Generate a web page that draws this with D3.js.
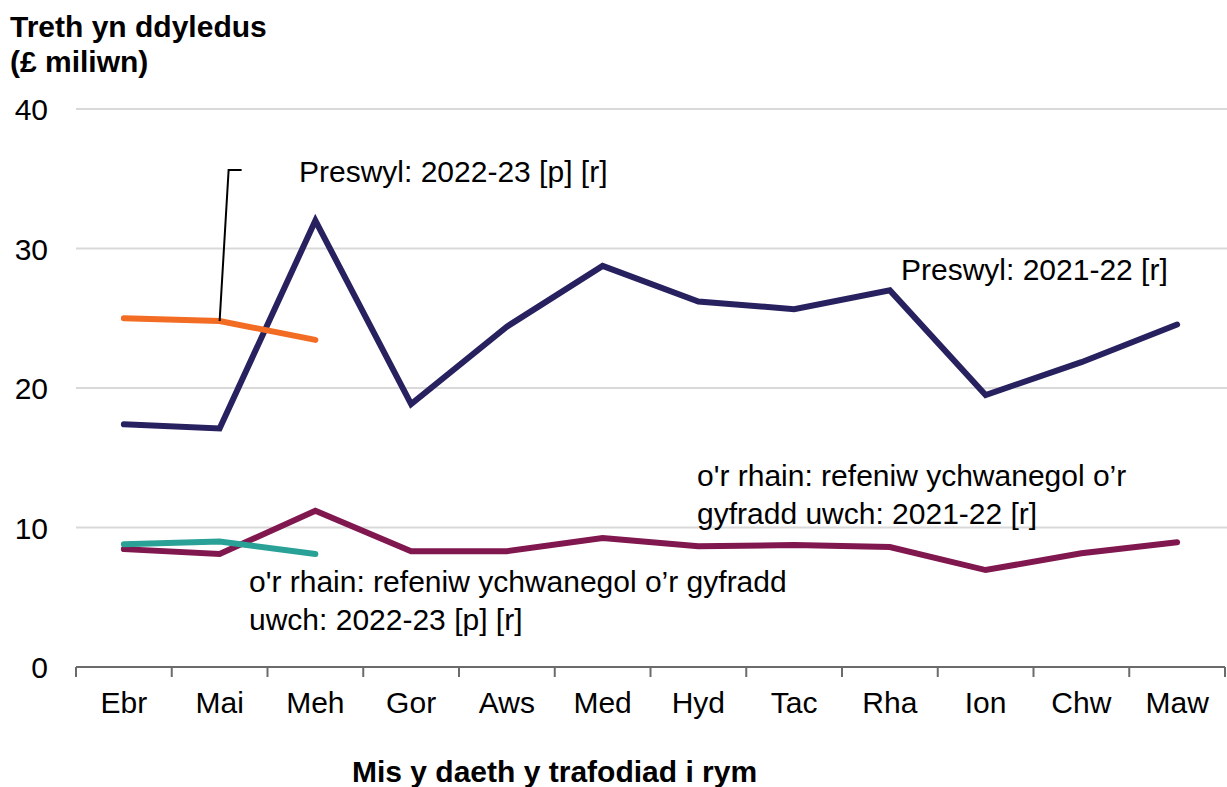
<!DOCTYPE html>
<html><head><meta charset="utf-8">
<script src="https://cdn.jsdelivr.net/npm/d3@7"></script>
<style>body{margin:0;background:#fff}svg{display:block;font-family:"Liberation Sans",Arial,sans-serif}</style>
</head><body><svg id="c" width="1227" height="787"></svg>
<script>
const months = ["Ebr","Mai","Meh","Gor","Aws","Med","Hyd","Tac","Rha","Ion","Chw","Maw"];
const yTicks = [0,10,20,30,40];
const preswyl2122 = [17.4,17.1,32.0,18.85,24.4,28.75,26.2,25.65,27.0,19.5,21.85,24.55];
const preswyl2223 = [25.0,24.8,23.45];
const uwch2122 = [8.45,8.1,11.2,8.3,8.3,9.25,8.65,8.75,8.6,6.95,8.15,8.95];
const uwch2223 = [8.8,9.0,8.1];

const FS = 30;
const svg = d3.select("#c");
const L=76, R=1225, T=109, B=667;
const x = d3.scaleBand().domain(months).range([L,R]);
const y = d3.scaleLinear().domain([0,40]).range([B,T]);

// gridlines
svg.append("g").selectAll("line").data(yTicks.filter(d=>d>0)).join("line")
  .attr("x1",L).attr("x2",1227).attr("y1",d=>y(d)).attr("y2",d=>y(d))
  .attr("stroke","#d9d9d9").attr("stroke-width",2);

// y labels
svg.append("g").selectAll("text").data(yTicks).join("text")
  .attr("x",48).attr("y",d=>y(d)+11).attr("text-anchor","end")
  .attr("font-size",FS).attr("fill","#000").text(d=>d);

// x axis
svg.append("line").attr("x1",L).attr("x2",R).attr("y1",B).attr("y2",B)
  .attr("stroke","#6b6b6b").attr("stroke-width",2);
svg.append("g").selectAll("line").data(d3.range(months.length+1)).join("line")
  .attr("x1",i=>L+i*x.step()).attr("x2",i=>L+i*x.step())
  .attr("y1",B).attr("y2",B+10).attr("stroke","#6b6b6b").attr("stroke-width",2);
svg.append("g").selectAll("text").data(months).join("text")
  .attr("x",d=>x(d)+x.bandwidth()/2).attr("y",713).attr("text-anchor","middle")
  .attr("font-size",FS).attr("fill","#000").text(d=>d);

// titles
svg.append("text").attr("x",10).attr("y",37).attr("font-size",FS).attr("font-weight","bold").text("Treth yn ddyledus");
svg.append("text").attr("x",10).attr("y",72).attr("font-size",FS).attr("font-weight","bold").text("(£ miliwn)");
svg.append("text").attr("x",352).attr("y",782).attr("font-size",FS).attr("font-weight","bold").text("Mis y daeth y trafodiad i rym");

// lines
const line = d3.line().x((d,i)=>x(months[i])+x.bandwidth()/2).y(d=>y(d));
const series = [
  {v:preswyl2122,c:"#28215f"},
  {v:uwch2122,c:"#80174f"},
  {v:uwch2223,c:"#2aa197"},
  {v:preswyl2223,c:"#f26c23"}
];
svg.append("g").selectAll("path").data(series).join("path")
  .attr("d",d=>line(d.v)).attr("fill","none").attr("stroke",d=>d.c)
  .attr("stroke-width",6).attr("stroke-linejoin","miter").attr("stroke-linecap","round");

// leader line
const mx = x("Mai")+x.bandwidth()/2;
svg.append("path").attr("d",`M${mx},${y(preswyl2223[1])} L${mx+9},170 L${mx+22},170`)
  .attr("fill","none").attr("stroke","#000").attr("stroke-width",2);

// annotations
function ann(xp, yp, lines){
  const t = svg.append("text").attr("font-size",FS).attr("fill","#000");
  lines.forEach((s,i)=>t.append("tspan").attr("x",xp).attr("y",yp+i*38).text(s));
}
ann(299,182,["Preswyl: 2022-23 [p] [r]"]);
ann(901,280,["Preswyl: 2021-22 [r]"]);
ann(697,486,["o'r rhain: refeniw ychwanegol o’r","gyfradd uwch: 2021-22 [r]"]);
ann(249,592,["o'r rhain: refeniw ychwanegol o’r gyfradd","uwch: 2022-23 [p] [r]"]);
</script></body></html>
